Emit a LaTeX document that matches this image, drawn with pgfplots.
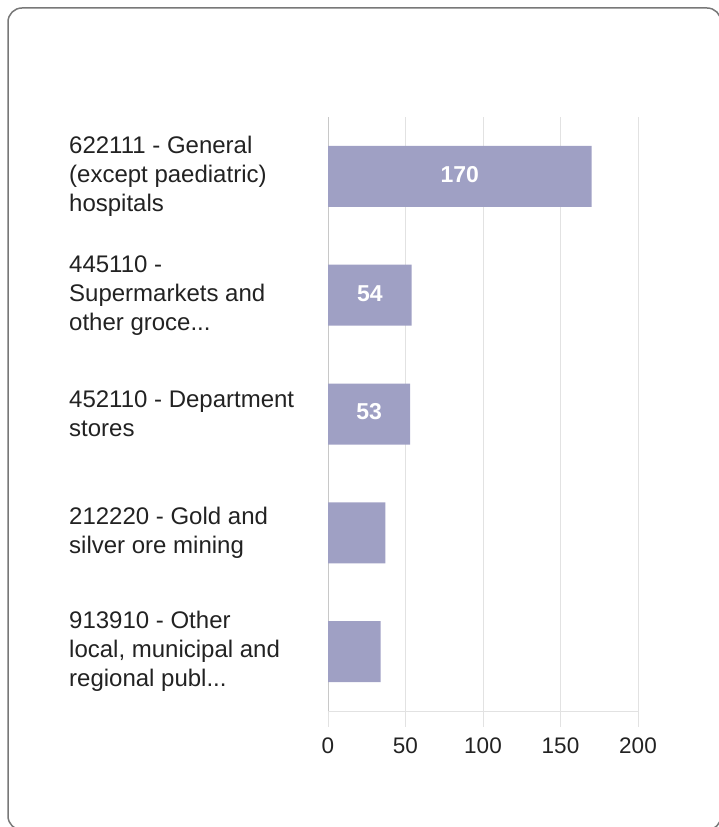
\documentclass[border=0pt]{standalone}
\usepackage{pgfplots}
\pgfplotsset{compat=1.18}
\usepackage{fontspec}
\setmainfont{Liberation Sans}
\definecolor{barcol}{RGB}{159,160,196}
\definecolor{gridcol}{RGB}{226,226,226}
\definecolor{axcol}{RGB}{200,200,200}
\definecolor{txt}{RGB}{34,34,34}
\definecolor{framecol}{RGB}{120,120,120}
\begin{document}
\begin{tikzpicture}
\useasboundingbox (0,0) rectangle (718pt,827pt);
\draw[framecol, line width=1.5pt, rounded corners=14pt] (8pt,819pt) rectangle (721pt,-3pt);
\begin{axis}[
    at={(328pt,116pt)}, anchor=south west,
    scale only axis, width=310pt, height=594pt,
    xbar, bar width=61pt, bar shift=0pt,
    xmin=0, xmax=200, ymin=-0.5, ymax=4.5, y dir=reverse,
    xtick={0,50,...,200}, ytick={0,1,2,3,4},
    yticklabels={
      {622111 - General\\(except paediatric)\\hospitals},
      {445110 -\\Supermarkets and\\other groce.{}.{}.},
      {452110 - Department\\stores},
      {212220 - Gold and\\silver ore mining},
      {913910 - Other\\local, municipal and\\regional publ.{}.{}.}},
    axis x line=bottom, axis y line=left,
    axis line style={-},
    x axis line style={gridcol, line width=1pt},
    y axis line style={axcol, line width=1pt},
    xmajorgrids, grid style={gridcol, line width=1pt},
    tick align=outside, major tick length=16pt,
    xtick style={gridcol, line width=1pt},
    ytick style={draw=none},
    /pgf/number format/assume math mode=true,
    xticklabel style={font=\fontsize{22.5}{27}\selectfont, text=txt, yshift=-7pt},
    yticklabel style={font=\fontsize{24}{29}\selectfont, text=txt,
      anchor=west, align=left, xshift=-243pt, inner sep=0pt},
  ]
  \addplot[fill=barcol, draw=none,
    nodes near coords,
    visualization depends on={x/2 \as \halfx},
    every node near coord/.append style={anchor=center, text=white,
      font=\fontsize{23}{27}\selectfont\bfseries, yshift=2pt,
      shift={(axis direction cs:-\halfx,0)}}]
    coordinates {(170,0) (54,1) (53,2)};
  \addplot[fill=barcol, draw=none] coordinates {(37,3) (34,4)};
\end{axis}
\end{tikzpicture}
\end{document}
